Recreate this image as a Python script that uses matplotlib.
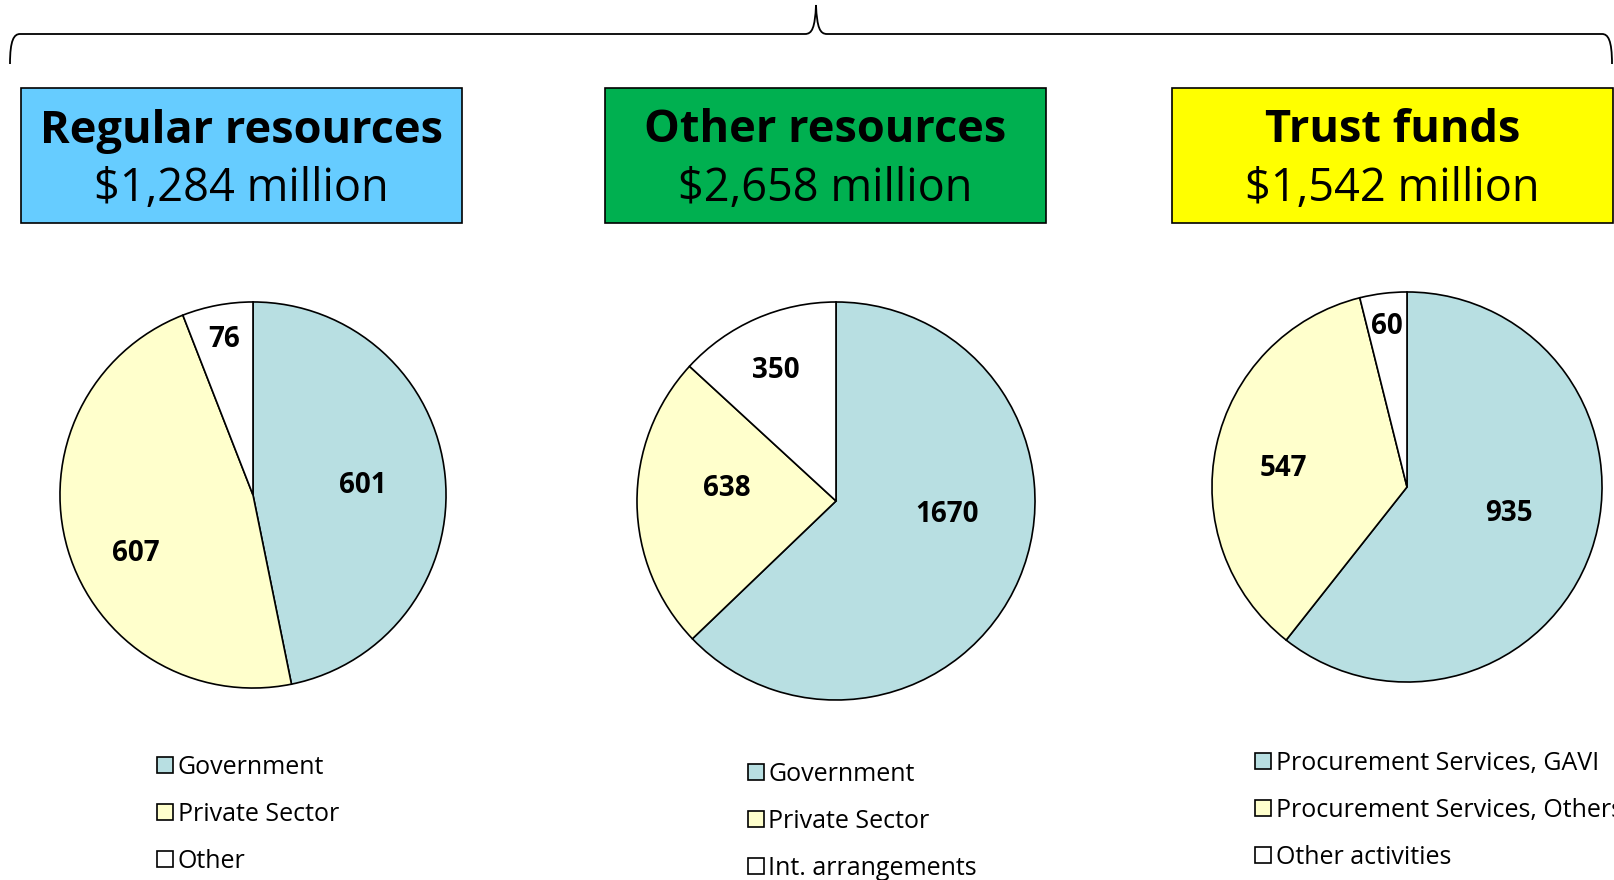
import math
import matplotlib.pyplot as plt
from matplotlib.path import Path
from matplotlib.patches import PathPatch, Rectangle

plt.rcParams['font.family'] = ['Open Sans', 'DejaVu Sans']

# data
titles = ['Regular resources', 'Other resources', 'Trust funds']
totals = ['$1,284 million', '$2,658 million', '$1,542 million']
box_colors = ['#66CCFF', '#00B050', '#FFFF00']

regular_labels = ['Government', 'Private Sector', 'Other']
regular_values = [601, 607, 76]

other_labels = ['Government', 'Private Sector', 'Int. arrangements']
other_values = [1670, 638, 350]

trust_labels = ['Procurement Services, GAVI', 'Procurement Services, Others', 'Other activities']
trust_values = [935, 547, 60]

slice_colors = ['#B8DFE2', '#FFFFCC', '#FFFFFF']

W, H = 1614, 880
fig = plt.figure(figsize=(W / 100, H / 100), dpi=100)

# background axes in pixel coordinates
bg = fig.add_axes([0, 0, 1, 1])
bg.set_xlim(0, W)
bg.set_ylim(H, 0)
bg.axis('off')

# curly brace on top
verts = [(10, 64), (10, 40), (14, 34), (20, 34),
         (805, 34),
         (812, 34), (815, 28), (816, 5),
         (817, 28), (820, 34), (827, 34),
         (1602, 34),
         (1608, 34), (1612, 40), (1612, 64)]
codes = [Path.MOVETO, Path.CURVE4, Path.CURVE4, Path.CURVE4,
         Path.LINETO,
         Path.CURVE4, Path.CURVE4, Path.CURVE4,
         Path.CURVE4, Path.CURVE4, Path.CURVE4,
         Path.LINETO,
         Path.CURVE4, Path.CURVE4, Path.CURVE4]
bg.add_patch(PathPatch(Path(verts, codes), facecolor='none', edgecolor='black', lw=1.3))

# header boxes
box_x = [21, 605, 1172]
box_w = 441
for x0, title, total, col in zip(box_x, titles, totals, box_colors):
    bg.add_patch(Rectangle((x0, 88), box_w, 135, facecolor=col, edgecolor='black', lw=1.2))
    cx = x0 + box_w / 2
    bg.text(cx, 131, title, ha='center', va='center', fontsize=32.5, fontweight='bold')
    bg.text(cx, 189, total, ha='center', va='center', fontsize=32.5)

# pies: values, labels, (centre x, centre y, radius) in px,
# label (distance, angle shift) per slice, legend anchor
pies = [
    (regular_values, regular_labels, (253, 495, 194),
     [(0.57, 1), (0.68, -10), (0.82, 0)], (157, 766)),
    (other_values, other_labels, (836, 501, 200),
     [(0.56, -16), (0.55, 7), (0.72, -1)], (748, 773)),
    (trust_values, trust_labels, (1407, 487, 196),
     [(0.54, -4.5), (0.64, -3.5), (0.83, 0)], (1255, 762)),
]

for values, labels, (cx, cy, r), lab_pos, (lx, ly) in pies:
    ax = fig.add_axes([(cx - r) / W, 1 - (cy + r) / H, 2 * r / W, 2 * r / H])
    wedges, texts = ax.pie(values, colors=slice_colors, startangle=90, counterclock=False,
                           labels=[str(v) for v in values], labeldistance=0.6,
                           wedgeprops=dict(edgecolor='black', linewidth=1.2),
                           textprops=dict(fontsize=20, fontweight='bold', ha='center', va='center'))
    for w, t, (d, shift) in zip(wedges, texts, lab_pos):
        # shift is clockwise degrees from the wedge middle
        phi = math.radians((w.theta1 + w.theta2) / 2 - shift)
        t.set_position((d * math.cos(phi), d * math.sin(phi)))
        t.set_ha('center')
    ax.set_xlim(-1.005, 1.005)
    ax.set_ylim(-1.005, 1.005)
    ax.set_aspect('equal')
    ax.legend(wedges, labels, loc='upper left', frameon=False,
              bbox_to_anchor=(lx / W, 1 - (ly - 11) / H), bbox_transform=fig.transFigure,
              fontsize=18, handlelength=0.62, handleheight=0.62, handletextpad=0.2,
              labelspacing=0.88, borderaxespad=0, borderpad=0)

fig.savefig('out.png', dpi=100)
